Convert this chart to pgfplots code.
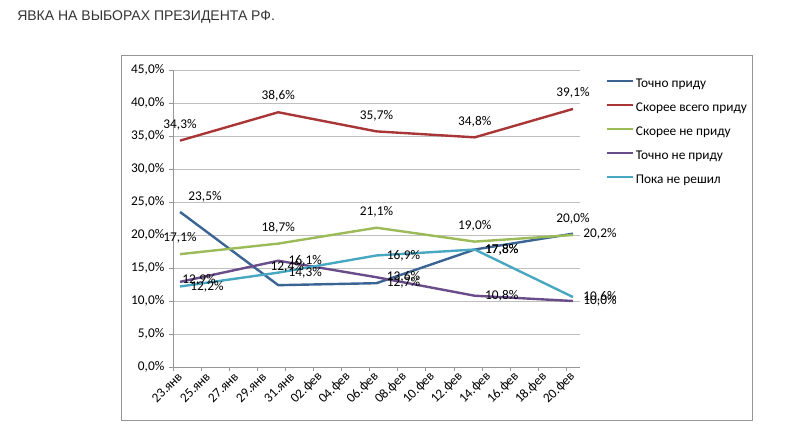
\documentclass[border=0pt]{standalone}
\usepackage{fontspec}
\setmainfont{Carlito}
\newfontfamily\arialfont{Liberation Sans}
\usepackage{pgfplots}
\pgfplotsset{compat=1.18}

\definecolor{cblue}{RGB}{58,100,148}
\definecolor{cred}{RGB}{168,54,54}
\definecolor{cgreen}{RGB}{155,187,89}
\definecolor{cpurple}{RGB}{104,77,138}
\definecolor{ccyan}{RGB}{72,168,194}
\definecolor{frame}{RGB}{150,150,150}
\definecolor{titlec}{RGB}{51,51,51}

\begin{document}
\begin{tikzpicture}
\path[use as bounding box] (0,0) rectangle (594.75pt,-321.75pt);
\draw[frame, line width=0.75pt] (90.75pt,-41.25pt) rectangle (564pt,-315pt);
\node[anchor=base west, inner sep=0pt, text=titlec, font=\arialfont\fontsize{10.5}{12}\selectfont]
  at (12.75pt,-15pt) {ЯВКА НА ВЫБОРАХ ПРЕЗИДЕНТА РФ.};
\begin{axis}[
  scale only axis,
  width=305.25pt, height=222.75pt,
  at={(129.75pt,-275.25pt)}, anchor=south west,
  xmin=0, xmax=29, ymin=0, ymax=45,
  xtick={0,2,...,28},
  xticklabels={23.янв,25.янв,27.янв,29.янв,31.янв,02.фев,04.фев,06.фев,08.фев,10.фев,12.фев,14.фев,16.фев,18.фев,20.фев},
  ytick={0,5,...,45},
  /pgf/number format/assume math mode=true,
  yticklabel={\pgfmathprintnumber[fixed,fixed zerofill,precision=1,use comma]{\tick}\%},
  xticklabel style={rotate=45, anchor=east, inner sep=2pt, xshift=4pt, yshift=-5.5pt},
  ticklabel style={font=\fontsize{10}{12}\selectfont},
  axis lines*=left,
  axis line style={frame, -},
  tick align=outside, major tick length=3pt,
  tick style={frame},
  ymajorgrids, grid style={gray!50, line width=0.6pt},
  no markers, clip=false,
  legend style={at={(1.062,0.972)}, anchor=north west, draw=none, fill=none,
    inner sep=0pt, row sep=8.9pt,
    font=\fontsize{10}{12}\selectfont,
    nodes={inner xsep=1.5pt, inner ysep=0pt, text height=7pt, text depth=2pt}},
  legend cell align=left,
  legend image code/.code={\draw[#1] (0pt,2.5pt) -- (19.5pt,2.5pt);},
  % data labels; shift given in px of the reference (1px = 0.75pt)
  lab/.style 2 args={
    draw=none, forget plot,
    nodes near coords={\pgfmathprintnumber[fixed,fixed zerofill,precision=1,use comma]{\pgfplotspointmeta}\%},
    nodes near coords style={anchor=center, text=black, inner sep=0pt,
      font=\fontsize{10}{12}\selectfont,
      xshift=0.75pt*#1, yshift=0.75pt*#2},
  },
]
% x = days from 23 Jan, points in the middle of the day
\addplot[cblue, line width=1.8pt] coordinates {(0.5,23.5) (7.5,12.4) (14.5,12.7) (21.5,17.8) (28.5,20.2)};
\addlegendentry{Точно приду}
\addplot[cred, line width=1.8pt] coordinates {(0.5,34.3) (7.5,38.6) (14.5,35.7) (21.5,34.8) (28.5,39.1)};
\addlegendentry{Скорее всего приду}
\addplot[cgreen, line width=1.8pt] coordinates {(0.5,17.1) (7.5,18.7) (14.5,21.1) (21.5,19.0) (28.5,20.0)};
\addlegendentry{Скорее не приду}
\addplot[cpurple, line width=1.8pt] coordinates {(0.5,12.9) (7.5,16.1) (14.5,13.6) (21.5,10.8) (28.5,10.0)};
\addlegendentry{Точно не приду}
\addplot[ccyan, line width=1.8pt] coordinates {(0.5,12.2) (7.5,14.3) (14.5,16.9) (21.5,17.8) (28.5,10.6)};
\addlegendentry{Пока не решил}
% labels above the points
\addplot[lab={0}{16}] coordinates {(0.5,34.3) (7.5,38.6) (14.5,35.7) (21.5,34.8) (28.5,39.1)};
\addplot[lab={0}{16}] coordinates {(0.5,17.1) (7.5,18.7) (14.5,21.1) (21.5,19.0) (28.5,20.0)};
% labels right of the points
\addplot[lab={27}{0}] coordinates {(14.5,12.7) (21.5,17.8) (28.5,20.2)};
\addplot[lab={27}{0}] coordinates {(7.5,16.1) (14.5,13.6) (21.5,10.8) (28.5,10.0)};
\addplot[lab={27}{0}] coordinates {(0.5,12.2) (7.5,14.3) (14.5,16.9) (21.5,17.8) (28.5,10.6)};
% labels placed by hand in the reference
\addplot[lab={25}{15}] coordinates {(0.5,23.5)};
\addplot[lab={9}{18}] coordinates {(7.5,12.4)};
\addplot[lab={19}{2}] coordinates {(0.5,12.9)};
\end{axis}
\end{tikzpicture}
\end{document}
